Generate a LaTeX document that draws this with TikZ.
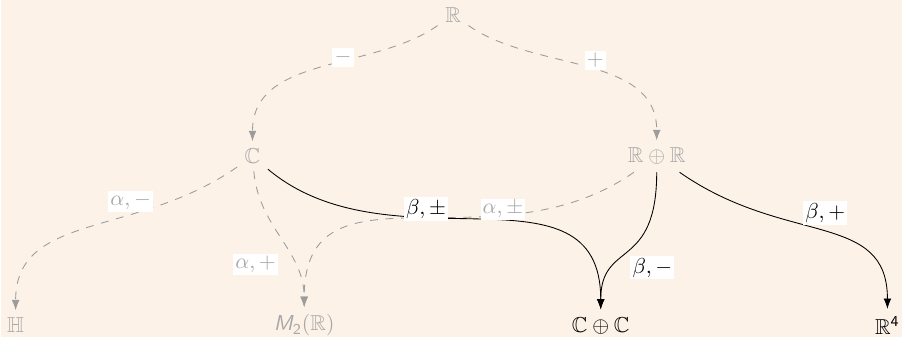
\documentclass[tikz,border=0pt]{standalone}
\usepackage{amsmath,amssymb}
\usepackage{xcolor}
\usetikzlibrary{arrows.meta}
\definecolor{cbg}{HTML}{FCF2E8}
\definecolor{cfade}{HTML}{A8A8A8}
\definecolor{cdash}{HTML}{9C9C9C}
\newcommand{\Mtwo}{\text{\sffamily\itshape M}_{\mathsf{2}}}

\begin{document}
\begin{tikzpicture}[
    faded/.style={text=cfade},
    lbl/.style={fill=white, inner sep=1pt},
    weak/.style={draw=cdash, dash pattern=on 3.6pt off 3.6pt, -{Latex[length=4.8pt]}},
    strong/.style={draw=black, -{Latex[length=4.8pt]}}]
  \fill[cbg] (0,0) rectangle (14.63,5.48);
  % nodes
  \node[faded] (r)  at (7.34,5.24)  {$\mathbb{R}$};
  \node[faded] (c)  at (4.08,2.94)  {$\mathbb{C}$};
  \node[faded] (rr) at (10.65,2.94) {$\mathbb{R}\oplus\mathbb{R}$};
  \node[faded] (h)  at (0.23,0.19)  {$\mathbb{H}$};
  \node[faded] (m)  at (4.92,0.19)  {$\Mtwo(\mathbb{R})$};
  \node (cc) at (9.74,0.19)  {$\mathbb{C}\oplus\mathbb{C}$};
  \node (r4) at (14.40,0.19) {$\mathbb{R}^{\mathsf{4}}$};
  % doubling with a sign
  \draw[weak] (r) to[out=-145,in=90,out distance=1.3cm,in distance=1.4cm] (c);
  \draw[weak] (r) to[out=-35,in=90,out distance=1.3cm,in distance=1.4cm] (rr);
  % alpha steps
  \draw[weak] (c) to[out=-145,in=90,out distance=2cm,in distance=1.6cm] (h);
  \draw[weak] (c) to[out=-85,in=90] (m);
  \draw[weak] (rr) to[out=-145,in=90,out distance=2.8cm,in distance=2.5cm] (m);
  % beta steps
  \draw[strong] (c) to[out=-40,in=90,out distance=2.6cm,in distance=2.5cm] (cc);
  \draw[strong] (rr) to[out=-90,in=90,out distance=1.61cm,in distance=1.13cm] (cc);
  \draw[strong] (rr) to[out=-35,in=90,out distance=2.1cm,in distance=1.6cm] (r4);
  % labels
  \node[lbl, faded] (lminus) at (5.55,4.55) {$-$};
  \node[lbl, faded] (lplus)  at (9.65,4.50) {$+$};
  \node[lbl, faded] (lam)    at (2.10,2.21) {$\alpha,-$};
  \node[lbl, faded] (lap)    at (4.13,1.18) {$\alpha,+$};
  \node[lbl, faded] (lapm)   at (8.15,2.08) {$\alpha,\pm$};
  \node[lbl] (lbpm) at (6.90,2.08) {$\beta,\pm$};
  \node[lbl] (lbm)  at (10.58,1.13) {$\beta,-$};
  \node[lbl] (lbp)  at (13.39,2.02) {$\beta,+$};
\end{tikzpicture}
\end{document}
